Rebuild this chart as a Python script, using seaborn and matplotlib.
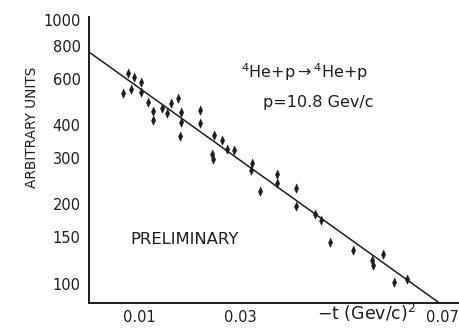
import numpy as np
import pandas as pd
import matplotlib
matplotlib.use('Agg')
import matplotlib.pyplot as plt
import matplotlib.ticker as mticker
import seaborn as sns

# -t (GeV/c)^2 and cross-section (arbitrary units)
t_vals = [0.0067, 0.0078, 0.0083, 0.0089, 0.0103, 0.0103, 0.0116, 0.0127,
          0.0127, 0.0144, 0.0155, 0.0163, 0.0177, 0.0183, 0.0183, 0.0180,
          0.0219, 0.0219, 0.0247, 0.0263, 0.0273, 0.0287, 0.0244, 0.0245,
          0.0322, 0.0321, 0.0339, 0.0372, 0.0372, 0.0411, 0.0411, 0.0447,
          0.0460, 0.0478, 0.0523, 0.0560, 0.0562, 0.0583, 0.0604, 0.0629]
sigma = [527, 631, 549, 608, 584, 535, 490, 452,
         418, 463, 443, 484, 508, 449, 412, 365,
         454, 406, 367, 352, 325, 323, 310, 297,
         288, 270, 224, 261, 241, 230, 197, 184,
         175, 144, 135, 123, 118, 130, 102, 104]

# straight exponential fit drawn on the plot
fit_t = [0.0, 0.0693]
fit_sigma = [756, 85]

y_ticks = [100, 150, 200, 300, 400, 600, 800, 1000]
x_ticks = [0.01, 0.02, 0.03, 0.04, 0.05, 0.06, 0.07]
x_ticklabels = ['0.01', '', '0.03', '', '', '', '0.07']

INK = '#1c1c1c'

sns.set_style('white')
plt.rcParams['font.family'] = ['DejaVu Sans']

df = pd.DataFrame({'t': t_vals, 'sigma': sigma})
fit = pd.DataFrame({'t': fit_t, 'sigma': fit_sigma})

fig = plt.figure(figsize=(4.59, 3.34), dpi=100, facecolor='white')
ax = fig.add_axes([89 / 459, 31 / 334, 1 - 89 / 459, (303 - 17) / 334])

sns.lineplot(data=fit, x='t', y='sigma', ax=ax, color=INK, linewidth=1.1)

diamond = [(0, 1), (0.45, 0), (0, -1), (-0.45, 0)]
sns.scatterplot(data=df, x='t', y='sigma', ax=ax, marker=diamond, s=46,
                color=INK, edgecolor=INK, linewidth=0.4, zorder=3)

ax.set_yscale('log')
ax.set_xlim(0, 0.0733)
ax.set_ylim(84.7, 1026)
ax.yaxis.set_major_locator(mticker.FixedLocator(y_ticks))
ax.yaxis.set_major_formatter(mticker.FixedFormatter([str(v) for v in y_ticks]))
ax.yaxis.set_minor_locator(mticker.NullLocator())
ax.set_xticks(x_ticks)
ax.set_xticklabels(x_ticklabels)
ax.tick_params(axis='both', direction='in', length=4, width=1.0, color=INK,
               labelcolor=INK, labelsize=10.5)
ax.tick_params(axis='y', pad=6)
ax.tick_params(axis='x', pad=5)
ax.set_xlabel('')
ax.set_ylabel('')

for side in ['top', 'right']:
    ax.spines[side].set_visible(False)
for side in ['left', 'bottom']:
    ax.spines[side].set_color(INK)
    ax.spines[side].set_linewidth(1.4)

fig.text(32 / 459, 1 - 127 / 334, 'ARBITRARY UNITS', rotation=90,
         ha='center', va='center', fontsize=9.8, color=INK)
fig.text(366 / 459, 1 - 313 / 334, r'$-$t (Gev/c)$^2$', ha='center',
         va='center', fontsize=12.5, color=INK)
fig.text(130 / 459, 1 - 240 / 334, 'PRELIMINARY', ha='left', va='center',
         fontsize=11.8, color=INK)
fig.text(305 / 459, 1 - 72 / 334, r'$^4$He+p$\rightarrow$$^4$He+p',
         ha='center', va='center', fontsize=11.5, color=INK)
fig.text(318 / 459, 1 - 102 / 334, 'p=10.8 Gev/c', ha='center',
         va='center', fontsize=11.5, color=INK)

plt.savefig('out.png', dpi=100, facecolor='white')
plt.close()
